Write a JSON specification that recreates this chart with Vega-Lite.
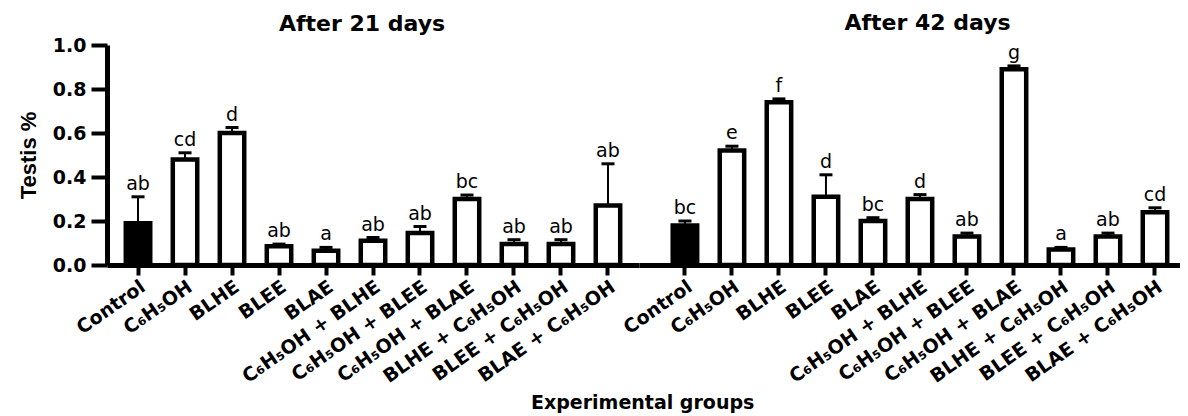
{
  "$schema": "https://vega.github.io/schema/vega-lite/v6.json",
  "background": "white",
  "padding": {"left": 17, "top": 11, "right": 0, "bottom": 0},
  "bounds": "flush",
  "spacing": 0,
  "datasets": {
    "d": [
      {"period": "21", "group": "Control", "mean": 0.19, "upper": 0.31, "letter": "ab"},
      {"period": "21", "group": "C₆H₅OH", "mean": 0.48, "upper": 0.51, "letter": "cd"},
      {"period": "21", "group": "BLHE", "mean": 0.6, "upper": 0.625, "letter": "d"},
      {"period": "21", "group": "BLEE", "mean": 0.085, "upper": 0.095, "letter": "ab"},
      {"period": "21", "group": "BLAE", "mean": 0.065, "upper": 0.08, "letter": "a"},
      {"period": "21", "group": "C₆H₅OH + BLHE", "mean": 0.11, "upper": 0.125, "letter": "ab"},
      {"period": "21", "group": "C₆H₅OH + BLEE", "mean": 0.145, "upper": 0.175, "letter": "ab"},
      {"period": "21", "group": "C₆H₅OH + BLAE", "mean": 0.3, "upper": 0.318, "letter": "bc"},
      {"period": "21", "group": "BLHE + C₆H₅OH", "mean": 0.095, "upper": 0.115, "letter": "ab"},
      {"period": "21", "group": "BLEE + C₆H₅OH", "mean": 0.095, "upper": 0.115, "letter": "ab"},
      {"period": "21", "group": "BLAE + C₆H₅OH", "mean": 0.27, "upper": 0.46, "letter": "ab"},
      {"period": "42", "group": "Control", "mean": 0.18, "upper": 0.2, "letter": "bc"},
      {"period": "42", "group": "C₆H₅OH", "mean": 0.52, "upper": 0.54, "letter": "e"},
      {"period": "42", "group": "BLHE", "mean": 0.74, "upper": 0.755, "letter": "f"},
      {"period": "42", "group": "BLEE", "mean": 0.31, "upper": 0.41, "letter": "d"},
      {"period": "42", "group": "BLAE", "mean": 0.2, "upper": 0.215, "letter": "bc"},
      {"period": "42", "group": "C₆H₅OH + BLHE", "mean": 0.3, "upper": 0.32, "letter": "d"},
      {"period": "42", "group": "C₆H₅OH + BLEE", "mean": 0.13, "upper": 0.145, "letter": "ab"},
      {"period": "42", "group": "C₆H₅OH + BLAE", "mean": 0.89, "upper": 0.905, "letter": "g"},
      {"period": "42", "group": "BLHE + C₆H₅OH", "mean": 0.07, "upper": 0.08, "letter": "a"},
      {"period": "42", "group": "BLEE + C₆H₅OH", "mean": 0.13, "upper": 0.145, "letter": "ab"},
      {"period": "42", "group": "BLAE + C₆H₅OH", "mean": 0.24, "upper": 0.26, "letter": "cd"}
    ]
  },
  "title": {"text": "Experimental groups", "orient": "bottom", "anchor": "middle", "frame": "bounds", "font": "DejaVu Sans", "fontWeight": "bold", "fontSize": 19, "offset": 8, "dx": 44, "color": "black"},
  "config": {
    "view": {"stroke": null},
    "axisX": {"title": null, "labelFont": "DejaVu Sans", "labelFontWeight": "bold", "labelFontSize": 19, "labelAngle": -35, "labelAlign": "right", "labelBaseline": "top", "tickSize": 10, "tickWidth": 4, "domainWidth": 5, "labelPadding": 2, "labelLimit": 400, "labelOverlap": false, "labelColor": "black", "tickColor": "black", "domainColor": "black"},
    "axisY": {"grid": false, "labelFont": "DejaVu Sans", "labelFontWeight": "bold", "labelFontSize": 19, "tickSize": 16, "tickWidth": 4, "domainWidth": 5, "labelPadding": 5, "titleFont": "Liberation Sans", "titleFontSize": 22, "titleFontWeight": "bold", "titlePadding": 12, "labelColor": "black", "tickColor": "black", "domainColor": "black", "titleColor": "black"}
  },
  "hconcat": [
    {
      "width": 532,
      "height": 220,
      "title": {"text": "After 21 days", "offset": 0, "dx": -11, "frame": "group", "font": "DejaVu Sans", "fontSize": 22, "fontWeight": "bold", "color": "black"},
      "data": {"name": "d"},
      "transform": [{"filter": "datum.period === '21'"}],
      "encoding": {
        "x": {"field": "group", "type": "nominal", "sort": null, "scale": {"paddingInner": 0.48, "paddingOuter": 0.4}}
      },
      "layer": [
        {
          "mark": {"type": "bar", "stroke": "black", "strokeWidth": 4.5},
          "encoding": {
            "y": {"field": "mean", "type": "quantitative", "title": "Testis %", "scale": {"domain": [0, 1], "nice": false}, "axis": {"values": [0, 0.2, 0.4, 0.6, 0.8, 1], "format": ".1f"}},
            "fill": {"condition": {"test": "datum.group === 'Control'", "value": "black"}, "value": "white"}
          }
        },
        {
          "mark": {"type": "rule", "strokeWidth": 2, "color": "black"},
          "encoding": {"y": {"field": "mean", "type": "quantitative", "title": "Testis %"}, "y2": {"field": "upper"}}
        },
        {
          "mark": {"type": "tick", "thickness": 3, "size": 13, "color": "black", "opacity": 1},
          "encoding": {"y": {"field": "upper", "type": "quantitative", "title": "Testis %"}}
        },
        {
          "mark": {"type": "text", "baseline": "bottom", "dy": -3, "font": "DejaVu Sans", "fontSize": 19, "color": "black"},
          "encoding": {"y": {"field": "upper", "type": "quantitative", "title": "Testis %"}, "text": {"field": "letter"}}
        }
      ]
    },
    {
      "width": 541,
      "height": 220,
      "title": {"text": "After 42 days", "offset": 9, "dx": 18, "frame": "group", "font": "DejaVu Sans", "fontSize": 22, "fontWeight": "bold", "color": "black"},
      "data": {"name": "d"},
      "transform": [{"filter": "datum.period === '42'"}],
      "encoding": {
        "x": {"field": "group", "type": "nominal", "sort": null, "scale": {"paddingInner": 0.48, "paddingOuter": 0.495, "align": 0.725}}
      },
      "layer": [
        {
          "mark": {"type": "bar", "stroke": "black", "strokeWidth": 4.5},
          "encoding": {
            "y": {"field": "mean", "type": "quantitative", "scale": {"domain": [0, 1], "nice": false}, "axis": null},
            "fill": {"condition": {"test": "datum.group === 'Control'", "value": "black"}, "value": "white"}
          }
        },
        {
          "mark": {"type": "rule", "strokeWidth": 2, "color": "black"},
          "encoding": {"y": {"field": "mean", "type": "quantitative", "axis": null}, "y2": {"field": "upper"}}
        },
        {
          "mark": {"type": "tick", "thickness": 3, "size": 13, "color": "black", "opacity": 1},
          "encoding": {"y": {"field": "upper", "type": "quantitative", "axis": null}}
        },
        {
          "mark": {"type": "text", "baseline": "bottom", "dy": -3, "font": "DejaVu Sans", "fontSize": 19, "color": "black"},
          "encoding": {"y": {"field": "upper", "type": "quantitative", "axis": null}, "text": {"field": "letter"}}
        }
      ]
    }
  ]
}
